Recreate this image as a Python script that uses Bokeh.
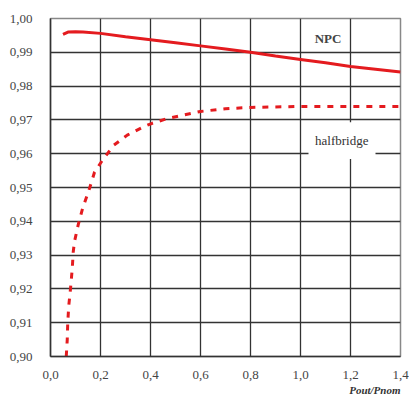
from bokeh.plotting import figure
from bokeh.models import Range1d, FixedTicker, BoxAnnotation, Label, Title
from bokeh.embed import file_html
from bokeh.resources import INLINE

npc_x = [0.05, 0.07, 0.10, 0.13, 0.2, 0.3, 0.4, 0.5, 0.6, 0.7, 0.8, 0.9, 1.0, 1.1, 1.2, 1.3, 1.4]
npc_y = [0.9953, 0.9960, 0.9961, 0.9960, 0.9956, 0.9946, 0.9937, 0.9928, 0.9919, 0.9910,
         0.9900, 0.9889, 0.9879, 0.9869, 0.9858, 0.9850, 0.9842]

hb_x = [0.063, 0.067, 0.069, 0.073, 0.080, 0.087, 0.091, 0.096, 0.111, 0.129, 0.153, 0.176,
        0.207, 0.253, 0.307, 0.373, 0.407, 0.472, 0.6, 0.7, 0.8, 1.0, 1.2, 1.4]
hb_y = [0.900, 0.905, 0.910, 0.915, 0.920, 0.926, 0.931, 0.934, 0.939, 0.944, 0.949, 0.9545,
        0.958, 0.9625, 0.9655, 0.968, 0.969, 0.9705, 0.9725, 0.9733, 0.9737, 0.9740, 0.9740, 0.9740]

x_ticks = [0.0, 0.2, 0.4, 0.6, 0.8, 1.0, 1.2, 1.4]
x_labels = ["0,0", "0,2", "0,4", "0,6", "0,8", "1,0", "1,2", "1,4"]
y_ticks = [0.90, 0.91, 0.92, 0.93, 0.94, 0.95, 0.96, 0.97, 0.98, 0.99, 1.00]
y_labels = ["0,90", "0,91", "0,92", "0,93", "0,94", "0,95", "0,96", "0,97", "0,98", "0,99", "1,00"]

FONT = "Liberation Serif"
RED = "#e41b1f"

p = figure(frame_width=350, frame_height=338, output_backend="svg", toolbar_location=None,
           x_range=Range1d(0, 1.4), y_range=Range1d(0.90, 1.00),
           min_border_left=50, min_border_right=9, min_border_top=18, min_border_bottom=0)
p.background_fill_color = "white"
p.border_fill_color = "white"
p.outline_line_color = "#888888"
p.outline_line_width = 1.5

for ax in (p.xaxis[0], p.yaxis[0]):
    ax.major_tick_line_color = None
    ax.minor_tick_line_color = None
    ax.axis_line_color = "#333333"
    ax.axis_line_width = 1.5
    ax.major_label_text_font = FONT
    ax.major_label_text_font_size = "13px"
    ax.major_label_text_color = "#444444"

p.xaxis.ticker = FixedTicker(ticks=x_ticks)
p.xaxis.major_label_overrides = {t: l for t, l in zip(x_ticks, x_labels)}
p.xaxis.major_label_standoff = 8
p.yaxis.ticker = FixedTicker(ticks=y_ticks)
p.yaxis.major_label_overrides = {t: l for t, l in zip(y_ticks, y_labels)}
p.yaxis.major_label_standoff = 12

p.xgrid.ticker = FixedTicker(ticks=x_ticks)
p.ygrid.ticker = FixedTicker(ticks=y_ticks)
p.grid.grid_line_color = "#333333"
p.grid.grid_line_width = 1.3
p.grid.grid_line_alpha = 1.0

# white patch behind the "halfbridge" label
p.add_layout(BoxAnnotation(left=1.032, right=1.30, bottom=0.9584, top=0.9693,
                           fill_color="white", fill_alpha=1.0, line_color=None))

p.line(npc_x, npc_y, line_color=RED, line_width=3)
p.line(hb_x, hb_y, line_color=RED, line_width=3, line_dash="6 7")

p.add_layout(Label(x=1.11, y=0.9940, text="NPC", text_font=FONT, text_font_size="13px",
                   text_color="#444444", text_align="center", text_baseline="middle",
                   text_font_style="bold"))
p.add_layout(Label(x=1.165, y=0.9640, text="halfbridge", text_font=FONT, text_font_size="13px",
                   text_color="#333333", text_align="center", text_baseline="middle"))

p.add_layout(Title(text="Pout/Pnom", align="right", text_font=FONT, text_font_size="11px",
                   text_color="#333333", text_font_style="bold italic", standoff=0,
                   offset=0), "below")

open("out.html", "w").write(file_html(p, INLINE))
